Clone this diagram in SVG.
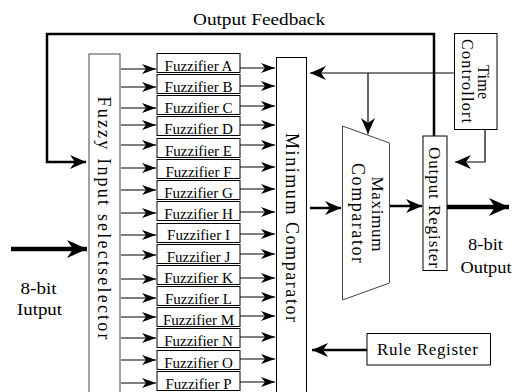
<svg xmlns="http://www.w3.org/2000/svg" width="512" height="392" viewBox="0 0 512 392">
<style>
text{font-family:"Liberation Serif","Times New Roman",serif;fill:#000}
.box{fill:#fff;stroke:#000;stroke-width:1}
.gbox{fill:#fff;stroke:#444;stroke-width:1}
.ln{fill:none;stroke:#000;stroke-width:1.2}
.thick{fill:none;stroke:#000;stroke-width:2.5}
.heavy{fill:none;stroke:#000;stroke-width:4.5}
.fz{font-size:15px;text-anchor:middle}
.lbl{font-size:17px;text-anchor:middle}
.rot{font-size:18px;text-anchor:middle}
</style>
<defs>
<marker id="ah" markerUnits="userSpaceOnUse" markerWidth="16" markerHeight="12" refX="14" refY="5" orient="auto">
<path d="M0,0 L14,5 L0,10 L4,5 z" fill="#000"/>
</marker>
<marker id="ahb" markerUnits="userSpaceOnUse" markerWidth="20" markerHeight="16" refX="16" refY="7" orient="auto">
<path d="M0,0 L16,7 L0,14 L5,7 z" fill="#000"/>
</marker>
<marker id="ahh" markerUnits="userSpaceOnUse" markerWidth="24" markerHeight="20" refX="20" refY="9" orient="auto">
<path d="M0,0 L20,9 L0,18 L6,9 z" fill="#000"/>
</marker>
</defs>

<text x="259" y="25" class="lbl" textLength="132" lengthAdjust="spacingAndGlyphs">Output Feedback</text>

<g id="connectors">
<polyline class="thick" points="434,136 434,34 47,34 47,162 86,162" marker-end="url(#ahb)"/>
<line class="heavy" x1="11" y1="249" x2="87" y2="249" marker-end="url(#ahh)"/>
<g class="ln">
<line x1="121" y1="69" x2="156" y2="69" marker-end="url(#ah)"/>
<line x1="121" y1="87" x2="156" y2="87" marker-end="url(#ah)"/>
<line x1="121" y1="108" x2="156" y2="108" marker-end="url(#ah)"/>
<line x1="121" y1="125" x2="156" y2="125" marker-end="url(#ah)"/>
<line x1="121" y1="145" x2="156" y2="145" marker-end="url(#ah)"/>
<line x1="121" y1="168" x2="156" y2="168" marker-end="url(#ah)"/>
<line x1="121" y1="190" x2="156" y2="190" marker-end="url(#ah)"/>
<line x1="121" y1="213" x2="156" y2="213" marker-end="url(#ah)"/>
<line x1="121" y1="235" x2="156" y2="235" marker-end="url(#ah)"/>
<line x1="121" y1="255" x2="156" y2="255" marker-end="url(#ah)"/>
<line x1="121" y1="279" x2="156" y2="279" marker-end="url(#ah)"/>
<line x1="121" y1="298" x2="156" y2="298" marker-end="url(#ah)"/>
<line x1="121" y1="317" x2="156" y2="317" marker-end="url(#ah)"/>
<line x1="121" y1="338" x2="156" y2="338" marker-end="url(#ah)"/>
<line x1="121" y1="360" x2="156" y2="360" marker-end="url(#ah)"/>
<line x1="121" y1="383" x2="156" y2="383" marker-end="url(#ah)"/>
<line x1="240" y1="68" x2="275" y2="68" marker-end="url(#ah)"/>
<line x1="240" y1="86" x2="275" y2="86" marker-end="url(#ah)"/>
<line x1="240" y1="106" x2="275" y2="106" marker-end="url(#ah)"/>
<line x1="240" y1="125" x2="275" y2="125" marker-end="url(#ah)"/>
<line x1="240" y1="145" x2="275" y2="145" marker-end="url(#ah)"/>
<line x1="240" y1="167" x2="275" y2="167" marker-end="url(#ah)"/>
<line x1="240" y1="189" x2="275" y2="189" marker-end="url(#ah)"/>
<line x1="240" y1="212" x2="275" y2="212" marker-end="url(#ah)"/>
<line x1="240" y1="234" x2="275" y2="234" marker-end="url(#ah)"/>
<line x1="240" y1="254" x2="275" y2="254" marker-end="url(#ah)"/>
<line x1="240" y1="278" x2="275" y2="278" marker-end="url(#ah)"/>
<line x1="240" y1="297" x2="275" y2="297" marker-end="url(#ah)"/>
<line x1="240" y1="316" x2="275" y2="316" marker-end="url(#ah)"/>
<line x1="240" y1="337" x2="275" y2="337" marker-end="url(#ah)"/>
<line x1="240" y1="359" x2="275" y2="359" marker-end="url(#ah)"/>
<line x1="240" y1="382" x2="275" y2="382" marker-end="url(#ah)"/>
<line x1="454" y1="73" x2="310" y2="73" marker-end="url(#ahb)"/>
<line x1="368" y1="73" x2="368" y2="134" marker-end="url(#ahb)"/>
<polyline points="485,129 485,162 455,162" marker-end="url(#ahb)"/>
</g>
<line class="thick" x1="310" y1="208" x2="341" y2="208" marker-end="url(#ahb)"/>
<line class="thick" x1="390" y1="206" x2="422" y2="206" marker-end="url(#ahb)"/>
<line class="heavy" x1="447" y1="207" x2="509" y2="207" marker-end="url(#ahh)"/>
<line class="thick" x1="367" y1="350" x2="312" y2="350" marker-end="url(#ahb)"/>
</g>

<g id="selector">
<rect class="gbox" x="89" y="54" width="31" height="345"/>
<text class="rot" transform="translate(104.5,218) rotate(90)" dy="0.35em" textLength="243" lengthAdjust="spacing">Fuzzy Input selectselector</text>
</g>

<g id="fuzzifiers">
<g id="fuzzA"><rect class="box" x="157" y="53.5" width="83" height="19"/><text class="fz" x="198.5" y="71">Fuzzifier A</text></g>
<g id="fuzzB"><rect class="box" x="157" y="74.5" width="83" height="19"/><text class="fz" x="198.5" y="92">Fuzzifier B</text></g>
<g id="fuzzC"><rect class="box" x="157" y="95.5" width="83" height="19"/><text class="fz" x="198.5" y="113">Fuzzifier C</text></g>
<g id="fuzzD"><rect class="box" x="157" y="116.5" width="83" height="19"/><text class="fz" x="198.5" y="134">Fuzzifier D</text></g>
<g id="fuzzE"><rect class="box" x="157" y="138.5" width="83" height="19"/><text class="fz" x="198.5" y="156">Fuzzifier E</text></g>
<g id="fuzzF"><rect class="box" x="157" y="159.5" width="83" height="19"/><text class="fz" x="198.5" y="177">Fuzzifier F</text></g>
<g id="fuzzG"><rect class="box" x="157" y="180.5" width="83" height="19"/><text class="fz" x="198.5" y="198">Fuzzifier G</text></g>
<g id="fuzzH"><rect class="box" x="157" y="201.5" width="83" height="19"/><text class="fz" x="198.5" y="219">Fuzzifier H</text></g>
<g id="fuzzI"><rect class="box" x="157" y="223.5" width="83" height="19"/><text class="fz" x="198.5" y="240">Fuzzifier I</text></g>
<g id="fuzzJ"><rect class="box" x="157" y="244.5" width="83" height="19"/><text class="fz" x="198.5" y="262">Fuzzifier J</text></g>
<g id="fuzzK"><rect class="box" x="157" y="265.5" width="83" height="19"/><text class="fz" x="198.5" y="283">Fuzzifier K</text></g>
<g id="fuzzL"><rect class="box" x="157" y="286.5" width="83" height="19"/><text class="fz" x="198.5" y="304">Fuzzifier L</text></g>
<g id="fuzzM"><rect class="box" x="157" y="307.5" width="83" height="19"/><text class="fz" x="198.5" y="325">Fuzzifier M</text></g>
<g id="fuzzN"><rect class="box" x="157" y="328.5" width="83" height="19"/><text class="fz" x="198.5" y="346">Fuzzifier N</text></g>
<g id="fuzzO"><rect class="box" x="157" y="350.5" width="83" height="19"/><text class="fz" x="198.5" y="368">Fuzzifier O</text></g>
<g id="fuzzP"><rect class="box" x="157" y="371.5" width="83" height="19"/><text class="fz" x="198.5" y="389">Fuzzifier P</text></g>
</g>

<g id="minComparator">
<rect class="box" x="276.5" y="57.5" width="30" height="340"/>
<text class="rot" transform="translate(292,227.5) rotate(90)" dy="0.35em" textLength="189" lengthAdjust="spacing">Minimum Comparator</text>
</g>

<g id="maxComparator">
<polygon class="gbox" points="342.5,126 389.5,143 389.5,283 342.5,300"/>
<text class="rot" transform="translate(378,214) rotate(90)" dy="0.35em" textLength="75" lengthAdjust="spacing" style="font-size:17px">Maximum</text>
<text class="rot" transform="translate(358.5,213) rotate(90)" dy="0.35em" textLength="100" lengthAdjust="spacing">Comparator</text>
</g>

<g id="outputRegister">
<rect class="box" x="423" y="136" width="24" height="134.5"/>
<text class="rot" transform="translate(435,207.5) rotate(90)" dy="0.35em" textLength="121" lengthAdjust="spacing" style="font-size:17px">Output Register</text>
</g>

<g id="timeController">
<rect class="box" x="454.5" y="33.5" width="42.5" height="96"/>
<text transform="translate(484,82) rotate(90)" dy="0.35em" style="font-size:16px;text-anchor:middle" textLength="34" lengthAdjust="spacing">Time</text>
<text transform="translate(468,81) rotate(90)" dy="0.35em" style="font-size:16px;text-anchor:middle" textLength="84" lengthAdjust="spacing">Controllort</text>
</g>

<g id="ruleRegister">
<rect class="box" x="367" y="333.5" width="123.5" height="31.5"/>
<text class="lbl" x="427.5" y="355" textLength="101" lengthAdjust="spacing">Rule  Register</text>
</g>

<g id="inputLabel">
<text class="lbl" x="38.5" y="294" textLength="36" lengthAdjust="spacingAndGlyphs">8-bit</text>
<text class="lbl" x="39.5" y="315" textLength="45" lengthAdjust="spacingAndGlyphs">Iutput</text>
</g>

<g id="outputLabel">
<text class="lbl" x="485.5" y="250" textLength="35" lengthAdjust="spacingAndGlyphs">8-bit</text>
<text class="lbl" x="486" y="273" textLength="51" lengthAdjust="spacingAndGlyphs">Output</text>
</g>
</svg>
